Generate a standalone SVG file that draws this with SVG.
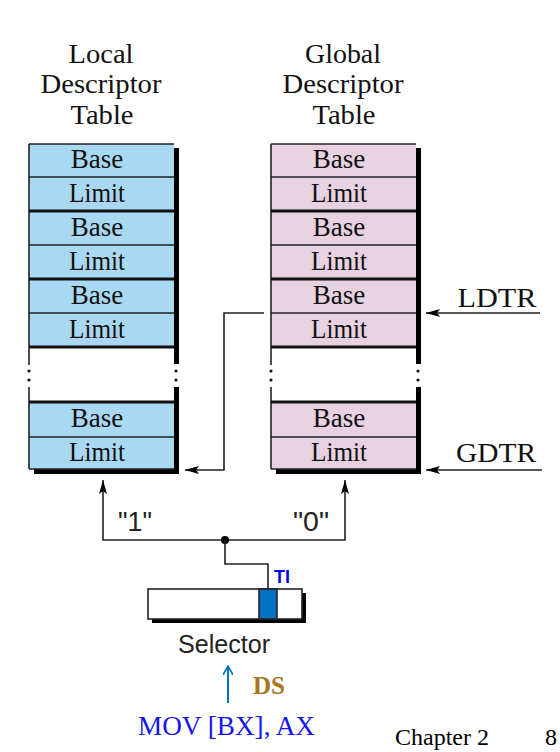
<svg xmlns="http://www.w3.org/2000/svg" width="560" height="752" viewBox="0 0 560 752">
<defs>
<style>
.t{font-family:"Liberation Serif","Times New Roman",serif;font-size:27px;fill:#111;text-anchor:middle}
.hd{font-family:"Liberation Serif","Times New Roman",serif;font-size:28px;fill:#111;text-anchor:middle}
.lb{font-family:"Liberation Sans",Arial,sans-serif;fill:#222;text-anchor:middle}
.ln{fill:none;stroke:#222;stroke-width:1.6}
.thin{stroke:#222;stroke-width:1.6}
.thick{stroke:#111;stroke-width:3.2}
.ldt{fill:#A8D8F2}
.gdt{fill:#E8D2E2}
.sh{fill:#000}
</style>
<marker id="ah" viewBox="0 0 14 8" refX="14" refY="4" markerWidth="14" markerHeight="8" markerUnits="userSpaceOnUse" orient="auto">
<path d="M0,0 L14,4 L0,8 L3,4 Z" fill="#000"/>
</marker>
<marker id="bh" viewBox="0 0 10 10" refX="9" refY="5" markerWidth="10" markerHeight="10" markerUnits="userSpaceOnUse" orient="auto">
<path d="M0,0 L9,5 L0,10" fill="none" stroke="#0070C0" stroke-width="1.6"/>
</marker>
</defs>
<rect width="560" height="752" fill="#fff"/>

<g id="ldt">
<text class="hd" x="101" y="63" textLength="65" lengthAdjust="spacingAndGlyphs">Local</text>
<text class="hd" x="101" y="93" textLength="121" lengthAdjust="spacingAndGlyphs">Descriptor</text>
<text class="hd" x="102" y="124" textLength="63" lengthAdjust="spacingAndGlyphs">Table</text>
<rect class="sh" x="174" y="148" width="5" height="199"/>
<rect class="sh" x="174" y="387" width="5" height="87"/>
<rect class="sh" x="174" y="347" width="5" height="17"/>
<rect class="sh" x="34" y="469" width="145" height="5"/>
<rect class="ldt" x="29" y="144" width="145" height="203"/>
<rect class="ldt" x="29" y="402" width="145" height="67"/>
<g>
<line class="thin" x1="29" y1="144" x2="174" y2="144"/>
<line class="thin" x1="29" y1="144" x2="29" y2="347"/>
<line class="thin" x1="29" y1="177" x2="174" y2="177"/>
<line class="thick" x1="29" y1="211" x2="174" y2="211"/>
<line class="thin" x1="29" y1="245" x2="174" y2="245"/>
<line class="thick" x1="29" y1="279" x2="174" y2="279"/>
<line class="thin" x1="29" y1="313" x2="174" y2="313"/>
<line class="thick" x1="29" y1="347" x2="174" y2="347"/>
<line class="thin" x1="29" y1="347" x2="29" y2="365"/>
<line class="thin" x1="29" y1="387" x2="29" y2="469"/>
<line class="thick" x1="29" y1="402" x2="174" y2="402"/>
<line class="thin" x1="29" y1="437" x2="174" y2="437"/>
<line class="thin" x1="29" y1="469" x2="174" y2="469"/>
<circle cx="29" cy="371" r="1.6" fill="#111"/>
<circle cx="29" cy="380" r="1.6" fill="#111"/>
<circle cx="176" cy="371" r="1.6" fill="#111"/>
<circle cx="176" cy="380" r="1.6" fill="#111"/>
</g>
<text class="t" x="97" y="168">Base</text>
<text class="t" x="97" y="202" textLength="56" lengthAdjust="spacingAndGlyphs">Limit</text>
<text class="t" x="97" y="236">Base</text>
<text class="t" x="97" y="270" textLength="56" lengthAdjust="spacingAndGlyphs">Limit</text>
<text class="t" x="97" y="304">Base</text>
<text class="t" x="97" y="338" textLength="56" lengthAdjust="spacingAndGlyphs">Limit</text>
<text class="t" x="97" y="427">Base</text>
<text class="t" x="97" y="461" textLength="56" lengthAdjust="spacingAndGlyphs">Limit</text>
</g>

<g id="gdt">
<text class="hd" x="343" y="63" textLength="76" lengthAdjust="spacingAndGlyphs">Global</text>
<text class="hd" x="343" y="93" textLength="121" lengthAdjust="spacingAndGlyphs">Descriptor</text>
<text class="hd" x="344" y="124" textLength="63" lengthAdjust="spacingAndGlyphs">Table</text>
<rect class="sh" x="416" y="148" width="5" height="199"/>
<rect class="sh" x="416" y="387" width="5" height="87"/>
<rect class="sh" x="416" y="347" width="5" height="17"/>
<rect class="sh" x="276" y="469" width="145" height="5"/>
<rect class="gdt" x="271" y="144" width="145" height="203"/>
<rect class="gdt" x="271" y="402" width="145" height="67"/>
<g>
<line class="thin" x1="271" y1="144" x2="416" y2="144"/>
<line class="thin" x1="271" y1="144" x2="271" y2="347"/>
<line class="thin" x1="271" y1="177" x2="416" y2="177"/>
<line class="thick" x1="271" y1="211" x2="416" y2="211"/>
<line class="thin" x1="271" y1="245" x2="416" y2="245"/>
<line class="thick" x1="271" y1="279" x2="416" y2="279"/>
<line class="thin" x1="271" y1="313" x2="416" y2="313"/>
<line class="thick" x1="271" y1="347" x2="416" y2="347"/>
<line class="thin" x1="271" y1="347" x2="271" y2="365"/>
<line class="thin" x1="271" y1="387" x2="271" y2="469"/>
<line class="thick" x1="271" y1="402" x2="416" y2="402"/>
<line class="thin" x1="271" y1="437" x2="416" y2="437"/>
<line class="thin" x1="271" y1="469" x2="416" y2="469"/>
<circle cx="271" cy="371" r="1.6" fill="#111"/>
<circle cx="271" cy="380" r="1.6" fill="#111"/>
<circle cx="418" cy="371" r="1.6" fill="#111"/>
<circle cx="418" cy="380" r="1.6" fill="#111"/>
</g>
<text class="t" x="339" y="168">Base</text>
<text class="t" x="339" y="202" textLength="56" lengthAdjust="spacingAndGlyphs">Limit</text>
<text class="t" x="339" y="236">Base</text>
<text class="t" x="339" y="270" textLength="56" lengthAdjust="spacingAndGlyphs">Limit</text>
<text class="t" x="339" y="304">Base</text>
<text class="t" x="339" y="338" textLength="56" lengthAdjust="spacingAndGlyphs">Limit</text>
<text class="t" x="339" y="427">Base</text>
<text class="t" x="339" y="461" textLength="56" lengthAdjust="spacingAndGlyphs">Limit</text>
</g>

<g id="ldtr">
<text class="hd" x="497" y="307" textLength="79" lengthAdjust="spacingAndGlyphs">LDTR</text>
</g>
<g id="gdtr">
<text class="hd" x="496" y="462" textLength="80" lengthAdjust="spacingAndGlyphs">GDTR</text>
</g>

<g id="selector">
<rect class="sh" x="152" y="593" width="154" height="30"/>
<rect x="148" y="589" width="154" height="30" fill="#fff" stroke="#222" stroke-width="1.6"/>
<rect x="259" y="589" width="18" height="30" fill="#0070C0" stroke="#222" stroke-width="1.6"/>
<text class="lb" x="224" y="653" style="font-size:26px" textLength="92" lengthAdjust="spacingAndGlyphs">Selector</text>
<text x="274" y="583" font-family="Liberation Sans,Arial,sans-serif" font-weight="bold" font-size="18" fill="#0000EE">TI</text>
</g>

<g id="labels">
<text class="lb" x="135" y="531" style="font-size:27px" textLength="34" lengthAdjust="spacingAndGlyphs">"1"</text>
<text class="lb" x="311" y="531" style="font-size:27px" textLength="36" lengthAdjust="spacingAndGlyphs">"0"</text>
<text x="253" y="694" font-family="Liberation Serif,Times New Roman,serif" font-weight="bold" font-size="25" fill="#A8761C">DS</text>
<text x="138" y="735" font-family="Liberation Serif,Times New Roman,serif" font-size="27" fill="#1515F0" textLength="177" lengthAdjust="spacingAndGlyphs">MOV [BX], AX</text>
<text x="395" y="745" font-family="Liberation Serif,Times New Roman,serif" font-size="24" fill="#000">Chapter 2</text>
<text x="545" y="745" font-family="Liberation Serif,Times New Roman,serif" font-size="24" fill="#000">8</text>
</g>

<g id="connectors">
<line class="ln" x1="540" y1="313" x2="426" y2="313" marker-end="url(#ah)"/>
<line class="ln" x1="542" y1="470" x2="426" y2="470" marker-end="url(#ah)"/>
<polyline class="ln" points="264,313 224,313 224,470 185,470" marker-end="url(#ah)"/>
<polyline class="ln" points="225,540 103,540 103,480" marker-end="url(#ah)"/>
<polyline class="ln" points="225,540 345,540 345,480" marker-end="url(#ah)"/>
<circle cx="225" cy="540" r="4" fill="#000"/>
<polyline class="ln" points="225,540 225,564 268,564 268,589"/>
<line x1="228" y1="703" x2="228" y2="666" stroke="#0070C0" stroke-width="2" marker-end="url(#bh)"/>
</g>
</svg>
